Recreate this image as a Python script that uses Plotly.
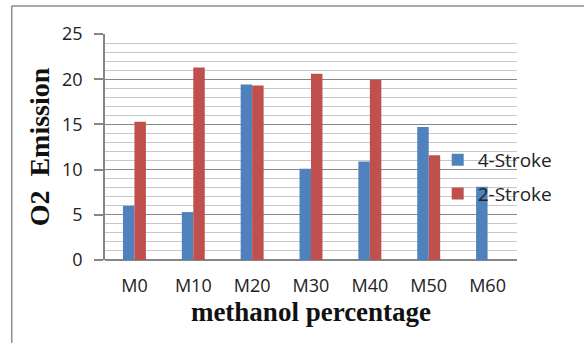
import plotly.graph_objects as go

# Emission data by methanol blend
categories = ["M0", "M10", "M20", "M30", "M40", "M50", "M60"]
four_stroke = [6.0, 5.3, 19.4, 10.1, 10.9, 14.7, 8.1]
two_stroke = [15.3, 21.3, 19.3, 20.6, 19.9, 11.6, None]
y_ticks = [0, 5, 10, 15, 20, 25]

W, H = 584, 343
L, R, T, B = 104.5, 66.5, 34, 83
PW, PH = W - L - R, H - T - B


def px(x):
    return (x - L) / PW


def py(y):
    return 1 - (y - T) / PH


fig = go.Figure()
fig.add_trace(go.Bar(x=categories, y=four_stroke, name="4-Stroke",
                     marker=dict(color="#4F81BD", line=dict(width=0)),
                     legendgroup="a"))
fig.add_trace(go.Bar(x=categories, y=two_stroke, name="2-Stroke",
                     marker=dict(color="#C0504D", line=dict(width=0)),
                     legendgroup="b"))

fig.update_layout(
    width=W, height=H,
    margin=dict(l=L, r=R, t=T, b=B),
    paper_bgcolor="white", plot_bgcolor="white",
    barmode="group", bargap=0.61, bargroupgap=0,
    font=dict(family="Open Sans", color="#222222"),
    legend=dict(x=px(438), y=py(141), xanchor="left", yanchor="top",
                bgcolor="rgba(0,0,0,0)", font=dict(size=19, color="#222222"),
                tracegroupgap=6, traceorder="grouped"),
    xaxis=dict(showgrid=False, showline=False, ticks="",
               tickfont=dict(size=18, color="#222222"),
               ticklabelstandoff=13,
               title=dict(text="<b>methanol percentage</b>",
                          font=dict(family="Liberation Serif", size=27, color="#111111"),
                          standoff=0)),
    yaxis=dict(range=[0, 25], tickvals=y_ticks, showline=True,
               linecolor="#868686", linewidth=1.5,
               ticks="outside", ticklen=9, tickcolor="#868686", tickwidth=1.5,
               showgrid=True, gridcolor="#868686", gridwidth=1.2,
               minor=dict(dtick=1, showgrid=True, gridcolor="#C8C8C8", gridwidth=1),
               zeroline=True, zerolinecolor="#868686", zerolinewidth=1.5,
               tickfont=dict(size=18, color="#222222"),
               ticklabelstandoff=8,
               title=dict(text="<b>O2  Emission</b>",
                          font=dict(family="Liberation Serif", size=28, color="#111111"),
                          standoff=4)),
    shapes=[
        dict(type="line", xref="paper", yref="paper",
             x0=px(11), x1=px(W + 2), y0=py(6), y1=py(6),
             line=dict(color="#8C8C8C", width=1.5)),
        dict(type="line", xref="paper", yref="paper",
             x0=px(11), x1=px(11), y0=py(6), y1=py(H + 2),
             line=dict(color="#8C8C8C", width=1.5)),
    ],
)

fig.write_html("out.html")
